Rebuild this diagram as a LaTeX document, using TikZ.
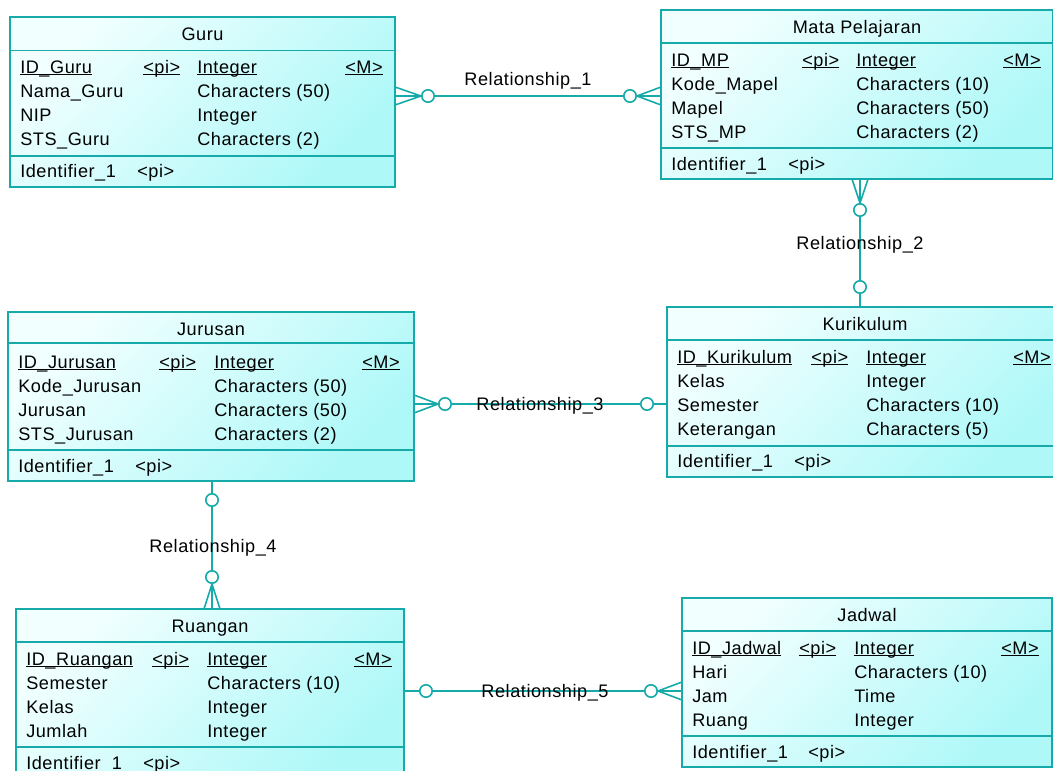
\documentclass[tikz,border=0pt]{standalone}
\usepackage{fontspec}
\setmainfont{Liberation Sans}[LetterSpace=3]
\usetikzlibrary{fit}

\definecolor{ercol}{RGB}{22,170,170}
\definecolor{boxtl}{RGB}{242,255,255}
\definecolor{boxbr}{RGB}{174,248,248}

% underline at a fixed depth
\newsavebox{\ulnbox}
\newcommand{\uln}[1]{\sbox{\ulnbox}{#1}\rlap{\rule[-1.4pt]{\wd\ulnbox}{0.8pt}}\usebox{\ulnbox}}

\begin{document}
\begin{tikzpicture}[
    x=0.75pt, y=-0.75pt,
    every node/.style={font=\fontsize{13.6}{16}\selectfont},
    entity/.style={draw=ercol,line width=1.2pt,top color=boxtl,bottom color=boxbr,shading angle=45,inner sep=0pt,outer sep=0pt},
    sep/.style={draw=ercol,line width=1.2pt},
    ttl/.style={anchor=base,inner sep=0pt},
    txt/.style={anchor=base west,inner sep=0pt},
    rel/.style={draw=ercol,line width=1.2pt},
    ring/.style={circle,draw=ercol,line width=1.2pt,fill=white,minimum size=9.3pt,inner sep=0pt},
    lbl/.style={anchor=base,inner sep=0pt}
]
\useasboundingbox (0,0) rectangle (1053,771);

% Guru
\node[entity,fit={(10,17) (395,187)}] (guru) {};
\draw[sep] (guru.west |- 0,50.5) -- (guru.east |- 0,50.5);
\draw[sep] (guru.west |- 0,156) -- (guru.east |- 0,156);
\node[ttl] (guru-t) at (202.5,40) {Guru};
\node[txt] (guru-a1) at (20,73) {\uln{ID\_Guru}};
\node[txt] (guru-p1) at (143,73) {\uln{<pi>}};
\node[txt] (guru-d1) at (197,73) {\uln{Integer}};
\node[txt] (guru-m1) at (345,73) {\uln{<M>}};
\node[txt] (guru-a2) at (20,97) {Nama\_Guru};
\node[txt] (guru-d2) at (197,97) {Characters (50)};
\node[txt] (guru-a3) at (20,121) {NIP};
\node[txt] (guru-d3) at (197,121) {Integer};
\node[txt] (guru-a4) at (20,145) {STS\_Guru};
\node[txt] (guru-d4) at (197,145) {Characters (2)};
\node[txt] (guru-i) at (20,177) {Identifier\_1};
\node[txt] (guru-ip) at (137,177) {<pi>};

% Mata Pelajaran
\node[entity,fit={(661,10) (1053,179)}] (mp) {};
\draw[sep] (mp.west |- 0,43) -- (mp.east |- 0,43);
\draw[sep] (mp.west |- 0,148) -- (mp.east |- 0,148);
\node[ttl] (mp-t) at (857,33) {Mata Pelajaran};
\node[txt] (mp-a1) at (671,66) {\uln{ID\_MP}};
\node[txt] (mp-p1) at (802,66) {\uln{<pi>}};
\node[txt] (mp-d1) at (856,66) {\uln{Integer}};
\node[txt] (mp-m1) at (1003,66) {\uln{<M>}};
\node[txt] (mp-a2) at (671,90) {Kode\_Mapel};
\node[txt] (mp-d2) at (856,90) {Characters (10)};
\node[txt] (mp-a3) at (671,114) {Mapel};
\node[txt] (mp-d3) at (856,114) {Characters (50)};
\node[txt] (mp-a4) at (671,138) {STS\_MP};
\node[txt] (mp-d4) at (856,138) {Characters (2)};
\node[txt] (mp-i) at (671,170) {Identifier\_1};
\node[txt] (mp-ip) at (788,170) {<pi>};

% Jurusan
\node[entity,fit={(8,312) (414,481)}] (jur) {};
\draw[sep] (jur.west |- 0,343) -- (jur.east |- 0,343);
\draw[sep] (jur.west |- 0,450) -- (jur.east |- 0,450);
\node[ttl] (jur-t) at (211,335) {Jurusan};
\node[txt] (jur-a1) at (18,368) {\uln{ID\_Jurusan}};
\node[txt] (jur-p1) at (159,368) {\uln{<pi>}};
\node[txt] (jur-d1) at (214,368) {\uln{Integer}};
\node[txt] (jur-m1) at (362,368) {\uln{<M>}};
\node[txt] (jur-a2) at (18,392) {Kode\_Jurusan};
\node[txt] (jur-d2) at (214,392) {Characters (50)};
\node[txt] (jur-a3) at (18,416) {Jurusan};
\node[txt] (jur-d3) at (214,416) {Characters (50)};
\node[txt] (jur-a4) at (18,440) {STS\_Jurusan};
\node[txt] (jur-d4) at (214,440) {Characters (2)};
\node[txt] (jur-i) at (18,472) {Identifier\_1};
\node[txt] (jur-ip) at (135,472) {<pi>};

% Kurikulum
\node[entity,fit={(667,307) (1063,477)}] (kur) {};
\draw[sep] (kur.west |- 0,340) -- (kur.east |- 0,340);
\draw[sep] (kur.west |- 0,446) -- (kur.east |- 0,446);
\node[ttl] (kur-t) at (865,330) {Kurikulum};
\node[txt] (kur-a1) at (677,363) {\uln{ID\_Kurikulum}};
\node[txt] (kur-p1) at (811,363) {\uln{<pi>}};
\node[txt] (kur-d1) at (866,363) {\uln{Integer}};
\node[txt] (kur-m1) at (1013,363) {\uln{<M>}};
\node[txt] (kur-a2) at (677,387) {Kelas};
\node[txt] (kur-d2) at (866,387) {Integer};
\node[txt] (kur-a3) at (677,411) {Semester};
\node[txt] (kur-d3) at (866,411) {Characters (10)};
\node[txt] (kur-a4) at (677,435) {Keterangan};
\node[txt] (kur-d4) at (866,435) {Characters (5)};
\node[txt] (kur-i) at (677,467) {Identifier\_1};
\node[txt] (kur-ip) at (794,467) {<pi>};

% Ruangan
\node[entity,fit={(16,609) (404,779)}] (rua) {};
\draw[sep] (rua.west |- 0,642) -- (rua.east |- 0,642);
\draw[sep] (rua.west |- 0,747) -- (rua.east |- 0,747);
\node[ttl] (rua-t) at (210,632) {Ruangan};
\node[txt] (rua-a1) at (26,665) {\uln{ID\_Ruangan}};
\node[txt] (rua-p1) at (152,665) {\uln{<pi>}};
\node[txt] (rua-d1) at (207,665) {\uln{Integer}};
\node[txt] (rua-m1) at (354,665) {\uln{<M>}};
\node[txt] (rua-a2) at (26,689) {Semester};
\node[txt] (rua-d2) at (207,689) {Characters (10)};
\node[txt] (rua-a3) at (26,713) {Kelas};
\node[txt] (rua-d3) at (207,713) {Integer};
\node[txt] (rua-a4) at (26,737) {Jumlah};
\node[txt] (rua-d4) at (207,737) {Integer};
\node[txt] (rua-i) at (26,769) {Identifier\_1};
\node[txt] (rua-ip) at (143,769) {<pi>};

% Jadwal
\node[entity,fit={(682,598) (1052,767)}] (jad) {};
\draw[sep] (jad.west |- 0,631) -- (jad.east |- 0,631);
\draw[sep] (jad.west |- 0,736) -- (jad.east |- 0,736);
\node[ttl] (jad-t) at (867,621) {Jadwal};
\node[txt] (jad-a1) at (692,654) {\uln{ID\_Jadwal}};
\node[txt] (jad-p1) at (799,654) {\uln{<pi>}};
\node[txt] (jad-d1) at (854,654) {\uln{Integer}};
\node[txt] (jad-m1) at (1001,654) {\uln{<M>}};
\node[txt] (jad-a2) at (692,678) {Hari};
\node[txt] (jad-d2) at (854,678) {Characters (10)};
\node[txt] (jad-a3) at (692,702) {Jam};
\node[txt] (jad-d3) at (854,702) {Time};
\node[txt] (jad-a4) at (692,726) {Ruang};
\node[txt] (jad-d4) at (854,726) {Integer};
\node[txt] (jad-i) at (692,758) {Identifier\_1};
\node[txt] (jad-ip) at (808,758) {<pi>};

% Relationship_1: Guru - Mata Pelajaran
\node[ring] (c1a) at (428,96) {};
\node[ring] (c1b) at (630,96) {};
\draw[rel] (guru.east |- c1a) -- (c1a) -- (c1b) -- (mp.west |- c1b);
\draw[rel] (guru.east |- 0,87) -- (c1a.west) -- (guru.east |- 0,105);
\draw[rel] (mp.west |- 0,87) -- (c1b.east) -- (mp.west |- 0,105);
\node[lbl] (r1) at (528,85) {Relationship\_1};

% Relationship_2: Mata Pelajaran - Kurikulum
\node[ring] (c2a) at (860,210) {};
\node[ring] (c2b) at (860,287) {};
\draw[rel] (mp.south -| c2a) -- (c2a) -- (c2b) -- (kur.north -| c2b);
\draw[rel] (mp.south -| 852,0) -- (c2a.north) -- (mp.south -| 868,0);
\node[lbl] (r2) at (860,249) {Relationship\_2};

% Relationship_3: Jurusan - Kurikulum
\node[ring] (c3a) at (445,404) {};
\node[ring] (c3b) at (647,404) {};
\draw[rel] (jur.east |- c3a) -- (c3a) -- (c3b) -- (kur.west |- c3b);
\draw[rel] (jur.east |- 0,395) -- (c3a.west) -- (jur.east |- 0,413);
\node[lbl] (r3) at (540,410) {Relationship\_3};

% Relationship_4: Jurusan - Ruangan
\node[ring] (c4a) at (212,500) {};
\node[ring] (c4b) at (212,577) {};
\draw[rel] (jur.south -| c4a) -- (c4a) -- (c4b) -- (rua.north -| c4b);
\draw[rel] (rua.north -| 204,0) -- (c4b.south) -- (rua.north -| 220,0);
\node[lbl] (r4) at (213,552) {Relationship\_4};

% Relationship_5: Ruangan - Jadwal
\node[ring] (c5a) at (426,691) {};
\node[ring] (c5b) at (651,691) {};
\draw[rel] (rua.east |- c5a) -- (c5a) -- (c5b) -- (jad.west |- c5b);
\draw[rel] (jad.west |- 0,682) -- (c5b.east) -- (jad.west |- 0,700);
\node[lbl] (r5) at (545,697) {Relationship\_5};

\end{tikzpicture}
\end{document}
